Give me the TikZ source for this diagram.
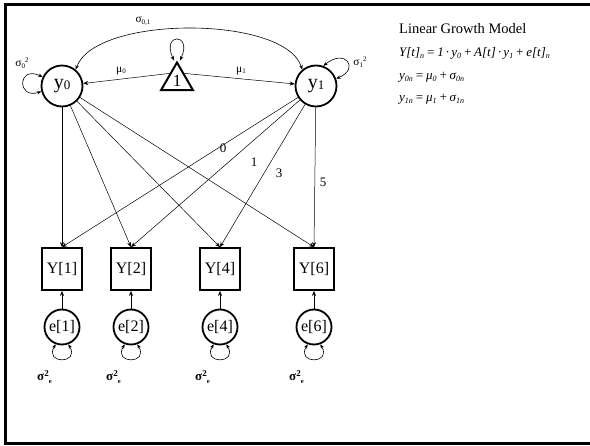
\documentclass[tikz,border=0pt]{standalone}
\usepackage{fontspec}
\setmainfont{Liberation Serif}
\usetikzlibrary{arrows.meta,shapes.geometric,calc}
\newcommand{\lsub}[2][8]{\raisebox{-1.5pt}{\fontsize{#1}{#1}\selectfont #2}}
\begin{document}
\begin{tikzpicture}[x=1pt,y=-1pt,
  lat/.style={circle, draw, line width=1.8pt, minimum size=41pt, inner sep=0pt, font=\fontsize{20}{20}\selectfont},
  obs/.style={rectangle, draw, line width=1.8pt, minimum width=40pt, minimum height=42pt, inner sep=0pt, font=\fontsize{16}{16}\selectfont},
  err/.style={circle, draw, line width=1.8pt, minimum size=35pt, inner sep=0pt, font=\fontsize{16}{16}\selectfont},
  one/.style={regular polygon, regular polygon sides=3, draw, line width=2pt, minimum size=37pt, inner sep=0pt, font=\fontsize{17}{17}\selectfont},
  conn/.style={-{Stealth[length=5pt,width=4pt]}, line width=0.5pt},
  dbl/.style={{Stealth[length=4.5pt,width=3.5pt]}-{Stealth[length=4.5pt,width=3.5pt]}, line width=0.6pt},
  lbl/.style={inner sep=0pt, font=\fontsize{13}{13}\selectfont},
  small/.style={inner sep=0pt, font=\fontsize{11.5}{11.5}\selectfont}
]
\useasboundingbox (0,0) rectangle (590,446);
% frame
\draw[line width=3pt] (590,4.5) -- (5,4.5) -- (5,444) -- (590,444);

% latent factors
\node[lat] (y0) at (62,86) {y\lsub[13]{0}};
\node[lat] (y1) at (316,86) {y\lsub[13]{1}};
\node[one] (tri) at (177,81) {\raisebox{-4pt}{1}};

% observed
\foreach \n/\x in {1/62,2/131,4/220,6/314}{
  \node[obs] (Y\n) at (\x,269) {Y[\n]};
  \node[err] (e\n) at (\x,327) {e[\n]};
  \draw[conn] (e\n) -- (Y\n);
  \draw[dbl] (e\n.250) .. controls +(-12,20) and +(12,20) .. (e\n.290);
  \node[inner sep=0pt, anchor=west] (s\n) at ($(e\n)+(-25,50)$) {\fontsize{13}{13}\selectfont\bfseries σ\raisebox{4pt}{\fontsize{9}{9}\selectfont 2}\raisebox{-3pt}{\fontsize{6.5}{6.5}\selectfont e}};
}

% loadings
\foreach \n in {1,2,4,6}{
  \draw[conn] (y0) -- (Y\n.north);
  \draw[conn] (y1) -- (Y\n.north);
}
\node[lbl] (l0) at (223,148) {0};
\node[lbl] (l1) at (254,162) {1};
\node[lbl] (l3) at (279,173) {3};
\node[lbl] (l5) at (323,182) {5};

% means
\draw[conn] ($(tri.corner 1)!0.42!(tri.corner 2)$) -- (y0);
\draw[conn] ($(tri.corner 1)!0.42!(tri.corner 3)$) -- (y1);
\node[small] (m0) at (121,71) {μ\lsub[7]{0}};
\node[small] (m1) at (241,71) {μ\lsub[7]{1}};

% self loops
\draw[dbl] ($(tri.corner 1)+(-3,0)$) .. controls +(-13,-28) and +(13,-28) .. ($(tri.corner 1)+(3,0)$);
\draw[dbl] (y0.155) .. controls +(-25,-12) and +(-25,8) .. (y0.195);
\draw[dbl] (y1.70) .. controls +(22,-18) and +(24,-10) .. (y1.20);
\node[small] (v0) at (22,63) {σ\lsub[7]{0}\raisebox{4pt}{\fontsize{7}{7}\selectfont 2}};
\node[small] (v1) at (360,62) {σ\lsub[7]{1}\raisebox{4pt}{\fontsize{7}{7}\selectfont 2}};

% covariance
\draw[dbl] (y0.50) .. controls (95,15) and (285,15) .. (y1.130);
\node[small] (c01) at (143,21) {σ\lsub[7]{0,1}};

% text
\node[anchor=base west, inner sep=0pt, font=\fontsize{14.5}{14.5}\selectfont] (title) at (399,34) {Linear Growth Model};
\node[anchor=base west, inner sep=0pt, font=\fontsize{13}{13}\selectfont\itshape] (eq1) at (399,57)
  {Y[t]\lsub{n}\,=\,1\,·\,y\lsub{0}\,+\,A[t]\,·\,y\lsub{1}\,+\,e[t]\lsub{n}};
\node[anchor=base west, inner sep=0pt, font=\fontsize{13}{13}\selectfont\itshape] (eq2) at (399,80)
  {y\lsub{0n}\,=\,μ\lsub{0}\,+\,σ\lsub{0n}};
\node[anchor=base west, inner sep=0pt, font=\fontsize{13}{13}\selectfont\itshape] (eq3) at (399,102)
  {y\lsub{1n}\,=\,μ\lsub{1}\,+\,σ\lsub{1n}};
\end{tikzpicture}
\end{document}
